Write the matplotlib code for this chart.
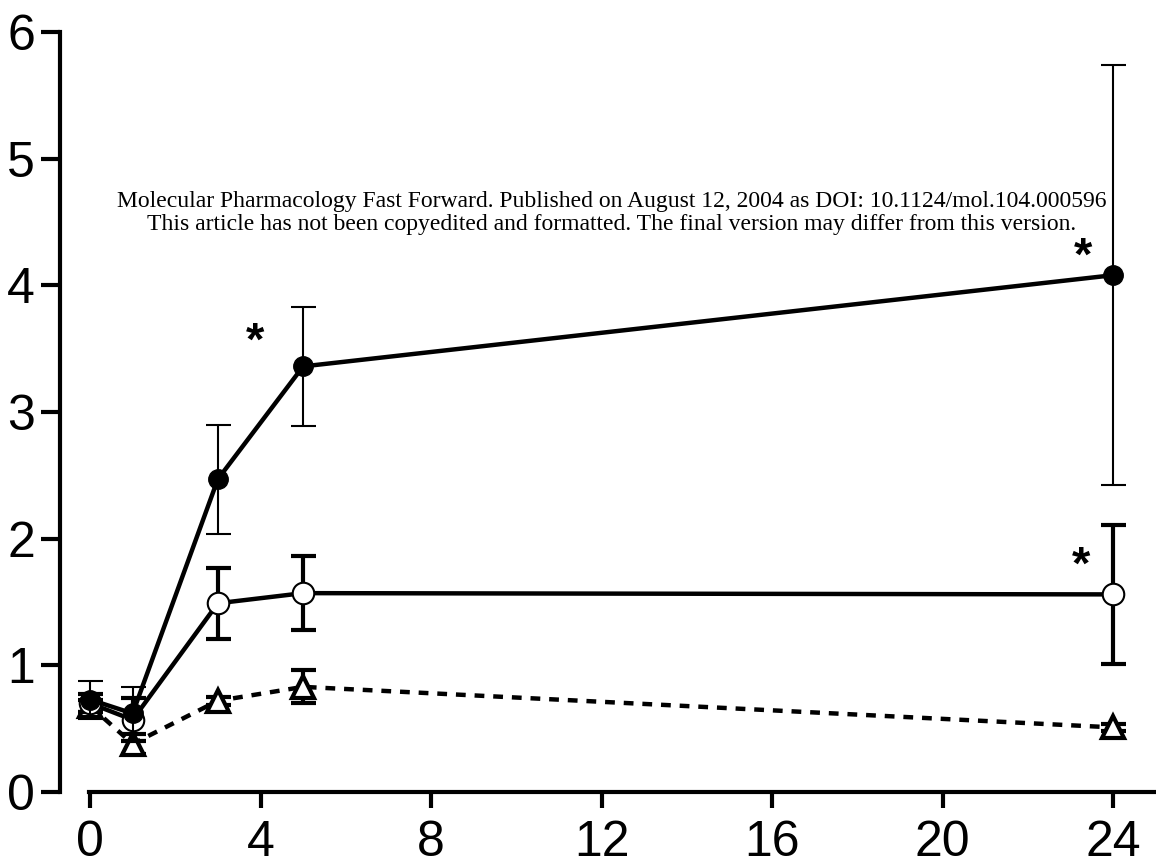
import matplotlib
matplotlib.use("Agg")
import matplotlib.pyplot as plt

# Time points (h)
time = [0, 1, 3, 5, 24]

# Filled circles
filled_mean = [0.73, 0.62, 2.47, 3.36, 4.08]
filled_err = [0.15, 0.21, 0.43, 0.47, 1.66]

# Open circles
open_mean = [0.70, 0.57, 1.49, 1.57, 1.56]
open_err = [0.07, 0.17, 0.28, 0.29, 0.55]

# Open triangles (dashed)
tri_mean = [0.68, 0.38, 0.72, 0.83, 0.51]
tri_err = [0.05, 0.08, 0.03, 0.13, 0.03]

x_ticks = [0, 4, 8, 12, 16, 20, 24]
y_ticks = [0, 1, 2, 3, 4, 5, 6]

# Significance markers: (x, y) of asterisks
star_x = [3.87, 23.3, 23.25]
star_y = [3.55, 4.22, 1.78]

W, H, DPI = 1156, 867, 100
fig = plt.figure(figsize=(W / DPI, H / DPI), dpi=DPI)
plt.rcParams['font.family'] = ['Liberation Sans', 'DejaVu Sans']

# axes frame in pixels
left_px, right_px, bot_px, top_px = 60, 1156, 792, 32
ax = fig.add_axes([left_px / W, 1 - bot_px / H, (right_px - left_px) / W, (bot_px - top_px) / H])
x0_px, x24_px = 90, 1113
ppu = (x24_px - x0_px) / 24.0
xmin = (left_px - x0_px) / ppu
xmax = (right_px - x0_px) / ppu
ax.set_xlim(xmin, xmax)
ax.set_ylim(0, 6)

for s in ['top', 'right']:
    ax.spines[s].set_visible(False)
ax.spines['left'].set_linewidth(3)
ax.spines['bottom'].set_linewidth(3)
ax.spines['left'].set_bounds(0, 6)
ax.spines['bottom'].set_bounds(-0.03, xmax)
ax.spines['left'].set_capstyle('projecting')

ax.set_xticks(x_ticks)
ax.set_yticks(y_ticks)
ax.set_xticklabels([str(t) for t in x_ticks])
ax.set_yticklabels([str(t) for t in y_ticks])
ax.tick_params(axis='y', direction='out', length=14, width=3, labelsize=36, pad=4)
ax.tick_params(axis='x', direction='out', length=11.5, width=3, labelsize=36, pad=9)

# Triangles, dashed line
ax.errorbar(time, tri_mean, yerr=tri_err, fmt='none', ecolor='black',
            elinewidth=3, capsize=9, capthick=3, zorder=2, clip_on=False)
ax.plot(time, tri_mean, color='black', lw=3.2, dashes=(2.2, 2.0), zorder=2, clip_on=False)
ax.plot(time, tri_mean, linestyle='none', marker='^', ms=16, mfc='white', mec='black',
        mew=3, zorder=3, clip_on=False)

# Open circles, solid line
ax.errorbar(time, open_mean, yerr=open_err, fmt='none', ecolor='black',
            elinewidth=3, capsize=9, capthick=3, zorder=4, clip_on=False)
ax.plot(time, open_mean, color='black', lw=3.2, zorder=4, clip_on=False)
ax.plot(time, open_mean, linestyle='none', marker='o', ms=15.5, mfc='white', mec='black',
        mew=1.5, zorder=5, clip_on=False)

# Filled circles, solid line
ax.errorbar(time, filled_mean, yerr=filled_err, fmt='none', ecolor='black',
            elinewidth=1.5, capsize=9, capthick=1.5, zorder=6, clip_on=False)
ax.plot(time, filled_mean, color='black', lw=3.2, zorder=6, clip_on=False)
ax.plot(time, filled_mean, linestyle='none', marker='o', ms=14, mfc='black', mec='black',
        zorder=7, clip_on=False)

for sx, sy in zip(star_x, star_y):
    ax.text(sx, sy, '*', fontsize=34, ha='center', va='center', color='black',
            fontweight='bold', zorder=8)

fig.text(612 / W, 1 - 207 / H,
         'Molecular Pharmacology Fast Forward. Published on August 12, 2004 as DOI: 10.1124/mol.104.000596',
         family='Liberation Serif', fontsize=17, ha='center', va='baseline')
fig.text(612 / W, 1 - 230 / H,
         'This article has not been copyedited and formatted. The final version may differ from this version.',
         family='Liberation Serif', fontsize=17, ha='center', va='baseline')

fig.savefig('out.png', dpi=DPI)
